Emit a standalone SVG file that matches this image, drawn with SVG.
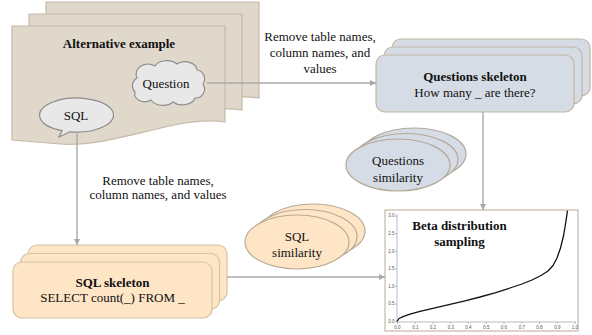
<svg xmlns="http://www.w3.org/2000/svg" xmlns:xlink="http://www.w3.org/1999/xlink" width="592" height="335" viewBox="0 0 592 335">
<defs>
<style>
text{font-family:"Liberation Serif","Times New Roman",serif;font-size:13px;fill:#111;text-anchor:middle}
text.b{font-weight:bold}
.sheet{fill:#e1d8cc;stroke:#c6b9a8;stroke-width:1.2}
.qbox{fill:#d6dce5;stroke:#c4b6a4;stroke-width:1.2}
.sbox{fill:#fde5c6;stroke:#d6c2a6;stroke-width:1.2}
.qell{fill:#d6dce5;stroke:#b3a897;stroke-width:1.2}
.sell{fill:#fde5c6;stroke:#b8aa96;stroke-width:1.2}
.bub{fill:#e8e8e8;stroke:#8c8c8c;stroke-width:1.2}
.conn{fill:none;stroke:#a8a8a8;stroke-width:1.4}
.ax{stroke:#aaa;stroke-width:0.8;fill:none}
g.tk text{font-family:"Liberation Sans",Arial,sans-serif;font-size:4.5px;fill:#555}
g.tk.y text{text-anchor:end}
</style>
<marker id="arr" viewBox="0 0 10 10" refX="10" refY="5" markerWidth="6" markerHeight="6" markerUnits="userSpaceOnUse" orient="auto">
<path d="M0,0 L10,5 L0,10 Z" fill="#a8a8a8"/>
</marker>
<path id="doc" d="M12,26 H225 V122 C180,114 115,148 60,144 Q35,142 12,140 Z"/>
</defs>

<g id="alternative-example">
<use xlink:href="#doc" class="sheet" transform="translate(34,-24)"/>
<use xlink:href="#doc" class="sheet" transform="translate(17,-12)"/>
<use xlink:href="#doc" class="sheet"/>
<text class="b" x="119" y="47.5">Alternative example</text>
</g>

<g id="question">
<path class="bub" d="M135,92 a9,9 0 0 1 2,-14 a12,10 0 0 1 18,-12 a13,9 0 0 1 22,-2 a12,9 0 0 1 20,6 a9,9 0 0 1 6,14 a9,9 0 0 1 -8,14 a13,9 0 0 1 -22,4 a13,9 0 0 1 -22,-2 a10,8 0 0 1 -16,-8 Z"/>
<text x="166" y="87.5">Question</text>
</g>

<g id="sql">
<path class="bub" d="M62,130.7 L59,137 L70,131.8 A37,17 0 1 0 62,130.7 Z"/>
<text x="76" y="119.5">SQL</text>
</g>

<g id="questions-skeleton">
<rect class="qbox" x="392" y="39" width="198" height="57" rx="9"/>
<rect class="qbox" x="384" y="47" width="198" height="57" rx="9"/>
<rect class="qbox" x="376" y="55" width="198" height="57" rx="9"/>
<text class="b" x="475" y="80.5">Questions skeleton</text>
<text x="475" y="96.5">How many _ are there?</text>
</g>

<g id="questions-similarity">
<ellipse class="qell" cx="414" cy="154" rx="52" ry="26"/>
<ellipse class="qell" cx="406" cy="159.5" rx="52" ry="26"/>
<ellipse class="qell" cx="398" cy="165" rx="52" ry="26"/>
<text x="398" y="164.5">Questions</text>
<text x="398" y="181.5">similarity</text>
</g>

<g id="sql-skeleton">
<rect class="sbox" x="28" y="245" width="199" height="56" rx="9"/>
<rect class="sbox" x="20.5" y="253.5" width="199" height="56" rx="9"/>
<rect class="sbox" x="13" y="262" width="199" height="56" rx="9"/>
<text class="b" x="112.5" y="286.5">SQL skeleton</text>
<text x="112.5" y="301.5">SELECT count(_) FROM _</text>
</g>

<g id="sql-similarity">
<ellipse class="sell" cx="313" cy="231" rx="52" ry="27"/>
<ellipse class="sell" cx="305" cy="236.5" rx="52" ry="27"/>
<ellipse class="sell" cx="297" cy="242" rx="52" ry="27"/>
<text x="297" y="241">SQL</text>
<text x="297" y="256.5">similarity</text>
</g>

<g id="beta-distribution-sampling">
<rect x="385" y="210" width="193" height="121" fill="#fff" stroke="#c6b9a8" stroke-width="1.2"/>
<path class="ax" d="M397,214 V322 H576"/>
<path class="ax" d="M395,321.7 H397 M395,304.1 H397 M395,286.5 H397 M395,268.9 H397 M395,251.3 H397 M395,233.7 H397 M395,216.1 H397"/>
<path class="ax" d="M397.5,322 V324 M415.3,322 V324 M433,322 V324 M450.8,322 V324 M468.5,322 V324 M486.3,322 V324 M504,322 V324 M521.8,322 V324 M539.5,322 V324 M557.3,322 V324 M575,322 V324"/>
<g class="tk y">
<text x="394.5" y="323">0.0</text>
<text x="394.5" y="305.4">0.5</text>
<text x="394.5" y="287.8">1.0</text>
<text x="394.5" y="270.2">1.5</text>
<text x="394.5" y="252.6">2.0</text>
<text x="394.5" y="235">2.5</text>
<text x="394.5" y="217.4">3.0</text>
</g>
<g class="tk">
<text x="397.5" y="328.5">0.0</text>
<text x="415.3" y="328.5">0.1</text>
<text x="433" y="328.5">0.2</text>
<text x="450.8" y="328.5">0.3</text>
<text x="468.5" y="328.5">0.4</text>
<text x="486.3" y="328.5">0.5</text>
<text x="504" y="328.5">0.6</text>
<text x="521.8" y="328.5">0.7</text>
<text x="539.5" y="328.5">0.8</text>
<text x="557.3" y="328.5">0.9</text>
<text x="575" y="328.5">1.0</text>
</g>
<polyline fill="none" stroke="#111" stroke-width="1.3" stroke-linejoin="round" points="397,321.5 399,318.5 403,316.6 410,314.2 420,311.4 435,307.8 450,304.3 465,300.8 480,297 495,292.8 510,288 522,284 532,280 541,275.5 548,271 553,265.5 557,258 560.5,248 563.5,236 565.5,224 567.5,210.6"/>
<text class="b" x="459.5" y="230">Beta distribution</text>
<text class="b" x="459.5" y="245.5">sampling</text>
</g>

<g id="connectors">
<line class="conn" x1="207" y1="83" x2="376" y2="83" marker-end="url(#arr)"/>
<line class="conn" x1="77" y1="132" x2="77" y2="245" marker-end="url(#arr)"/>
<line class="conn" x1="483" y1="112" x2="483" y2="210" marker-end="url(#arr)"/>
<line class="conn" x1="227" y1="277" x2="385" y2="277" marker-end="url(#arr)"/>
<text x="320" y="41">Remove table names,</text>
<text x="320" y="57">column names, and</text>
<text x="320" y="73">values</text>
<text x="158" y="185">Remove table names,</text>
<text x="158" y="199">column names, and values</text>
</g>
</svg>
